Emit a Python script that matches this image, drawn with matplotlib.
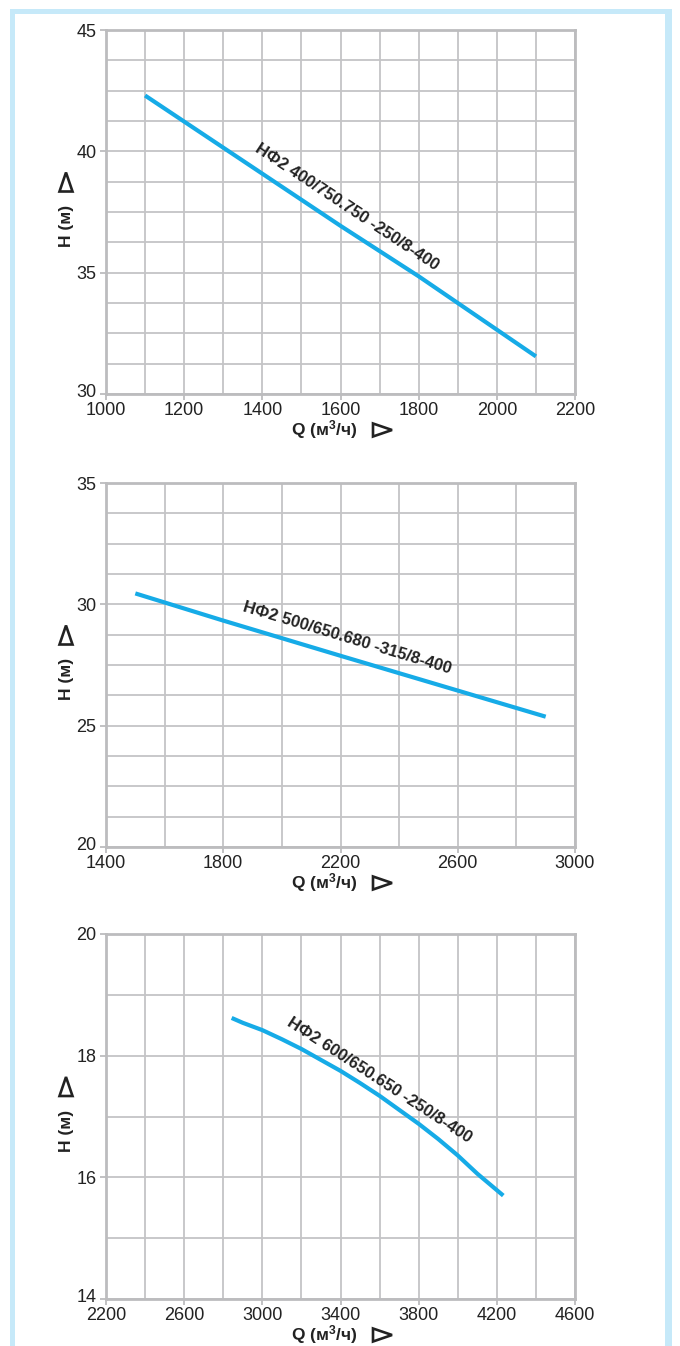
import matplotlib
matplotlib.use("Agg")
import matplotlib.pyplot as plt
from matplotlib.ticker import FixedLocator
from matplotlib.patches import Rectangle, Polygon
from matplotlib.transforms import ScaledTranslation

plt.rcParams['font.family'] = ['Liberation Sans', 'DejaVu Sans']
plt.rcParams['mathtext.fontset'] = 'custom'
plt.rcParams['mathtext.rm'] = 'Liberation Sans:bold'
plt.rcParams['mathtext.default'] = 'rm'

# ---- data ----
q1 = [1100, 1600, 1800, 2100]
h1 = [42.3, 36.93, 34.85, 31.55]
label1 = "НФ2 400/750.750 -250/8-400"

q2 = [1500, 1800, 2200, 2900]
h2 = [30.45, 29.33, 27.88, 25.37]
label2 = "НФ2 500/650.680 -315/8-400"

q3 = [2843, 2900, 3000, 3100, 3200, 3300, 3400, 3500, 3600, 3700, 3800, 3900, 4000, 4100, 4233]
h3 = [18.62, 18.54, 18.42, 18.27, 18.11, 17.93, 17.75, 17.55, 17.34, 17.11, 16.88, 16.63, 16.36, 16.06, 15.70]
label3 = "НФ2 600/650.650 -250/8-400"

xticks1 = [1000, 1200, 1400, 1600, 1800, 2000, 2200]
yticks1 = [30, 35, 40, 45]
xticks2 = [1400, 1800, 2200, 2600, 3000]
yticks2 = [20, 25, 30, 35]
xticks3 = [2200, 2600, 3000, 3400, 3800, 4200, 4600]
yticks3 = [14, 16, 18, 20]

xlabel = "Q (м$^{3}$/ч)"
ylabel = "H (м)"

W, H = 680, 1346
fig = plt.figure(figsize=(W / 100, H / 100), dpi=100)
fig.patch.set_facecolor('white')

# light blue frame
frame_c = '#c6e9f9'
for (x0, y0, w, h) in [(10, 9, 5, H), (665, 9, 7, H), (10, 9, 662, 5)]:
    fig.add_artist(Rectangle((x0 / W, 1 - (y0 + h) / H), w / W, h / H,
                             transform=fig.transFigure, color=frame_c, lw=0, zorder=0))

grid_c = '#c4c4c6'
spine_c = '#bcbcbe'
line_c = '#16abe7'
text_c = '#222222'


def tri(pts_px):
    poly = Polygon([(x / W, 1 - y / H) for x, y in pts_px], closed=True,
                   transform=fig.transFigure, facecolor='white', edgecolor=text_c,
                   lw=1.9, joinstyle='miter', zorder=5)
    fig.add_artist(poly)


specs = [
    dict(top=30, bottom=394, q=q1, h=h1, xlim=(1000, 2200), ylim=(30, 45),
         xt=xticks1, yt=yticks1, xmin=100, ymin=1.25, lab=label1, lpos=(1616, 37.72), rot=-33.5),
    dict(top=483, bottom=847, q=q2, h=h2, xlim=(1400, 3000), ylim=(20, 35),
         xt=xticks2, yt=yticks2, xmin=200, ymin=1.25, lab=label2, lpos=(2223, 28.6), rot=-16.8),
    dict(top=934, bottom=1299, q=q3, h=h3, xlim=(2200, 4600), ylim=(14, 20),
         xt=xticks3, yt=yticks3, xmin=200, ymin=1, lab=label3, lpos=(3600, 17.6), rot=-33.0),
]

left_px, right_px = 106, 575
for s in specs:
    ax = fig.add_axes([left_px / W, 1 - s['bottom'] / H, (right_px - left_px) / W,
                       (s['bottom'] - s['top']) / H])
    ax.set_xlim(*s['xlim'])
    ax.set_ylim(*s['ylim'])
    ax.xaxis.set_major_locator(FixedLocator(s['xt']))
    ax.yaxis.set_major_locator(FixedLocator(s['yt']))
    x0, x1 = s['xlim']
    y0, y1 = s['ylim']
    nx = int(round((x1 - x0) / s['xmin']))
    ny = int(round((y1 - y0) / s['ymin']))
    ax.xaxis.set_minor_locator(FixedLocator([x0 + i * s['xmin'] for i in range(nx + 1)]))
    ax.yaxis.set_minor_locator(FixedLocator([y0 + i * s['ymin'] for i in range(ny + 1)]))
    ax.grid(which='both', color=grid_c, lw=1.3, zorder=0)
    ax.set_axisbelow(True)
    for sp in ax.spines.values():
        sp.set_color(spine_c)
        sp.set_linewidth(2.0)
    ax.tick_params(which='major', direction='out', length=4, width=1.3, color=spine_c,
                   labelsize=13, labelcolor=text_c)
    ax.tick_params(axis='x', which='major', pad=2.0)
    ax.tick_params(axis='y', which='major', pad=3)
    ax.tick_params(which='minor', length=0)

    # lift the lowest y tick label a little so it clears the first x tick label
    fig.canvas.draw()
    ylabs = ax.get_yticklabels()
    if ylabs:
        lowest = ylabs[0]
        lowest.set_transform(lowest.get_transform() + ScaledTranslation(0, 4 / 100, fig.dpi_scale_trans))

    ax.plot(s['q'], s['h'], color=line_c, lw=3.0, solid_capstyle='butt',
            solid_joinstyle='round', zorder=3)
    ax.text(s['lpos'][0], s['lpos'][1], s['lab'], rotation=s['rot'], rotation_mode='anchor',
            ha='center', va='center', fontsize=12.0, fontweight='bold', color=text_c, zorder=4)

    # x label with triangle
    ylp = s['bottom'] + 36
    fig.text(324 / W, 1 - ylp / H, xlabel, ha='center', va='center', fontsize=12.5,
             fontweight='bold', color=text_c)
    tri([(373, ylp - 6.5), (373, ylp + 6.5), (392, ylp)])
    # y label with triangle
    cy = (s['top'] + s['bottom']) / 2
    fig.text(66 / W, 1 - (cy + 14) / H, ylabel, ha='center', va='center', rotation=90,
             fontsize=12.5, fontweight='bold', color=text_c)
    tc = cy - 30
    tri([(59.5, tc + 9.5), (72.5, tc + 9.5), (66, tc - 9.5)])

fig.savefig('out.png', dpi=100, facecolor='white')
